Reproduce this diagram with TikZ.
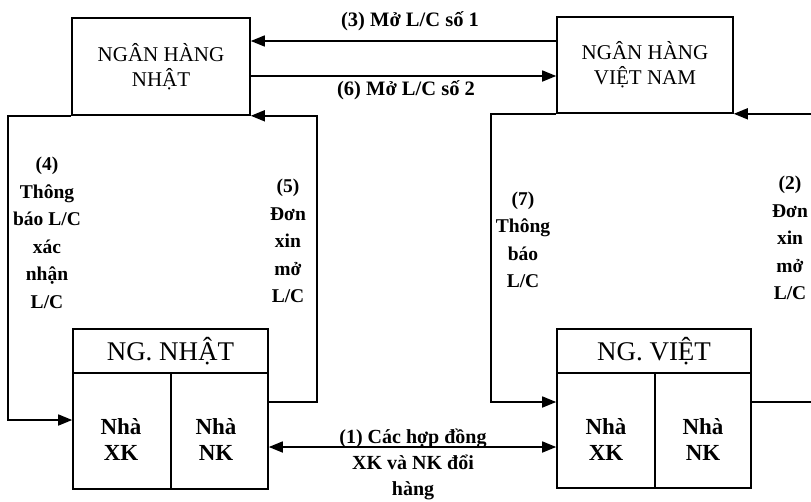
\documentclass[tikz,border=0pt]{standalone}
\usepackage{fontspec}
\setmainfont{Liberation Serif}
\usetikzlibrary{arrows.meta}
\begin{document}
\begin{tikzpicture}[x=1pt,y=-1pt,
  box/.style={draw,line width=1.6pt,inner sep=0pt,align=center},
  bank/.style={box,font=\fontsize{21}{25}\selectfont},
  head/.style={box,font=\fontsize{27}{30}\selectfont},
  cell/.style={box},
  celltext/.style={align=center,inner sep=0pt,font=\bfseries\fontsize{23}{26}\selectfont},
  conn/.style={line width=1.6pt},
  arr/.style={conn,-{Triangle[length=14pt,width=11pt]}},
  darr/.style={conn,{Triangle[length=14pt,width=11pt]}-{Triangle[length=14pt,width=11pt]}},
  lbl/.style={align=center,inner sep=0pt,font=\bfseries\fontsize{19.5}{27.5}\selectfont},
  toplbl/.style={align=center,inner sep=0pt,font=\bfseries\fontsize{20.5}{24}\selectfont},
  tlbl/.style={align=center,inner sep=0pt,font=\bfseries\fontsize{20}{26}\selectfont}]
\useasboundingbox (0,0) rectangle (811,501);
% banks
\node[bank,minimum width=178pt,minimum height=97pt] (bj) at (161,66.5) {NGÂN HÀNG\\NHẬT};
\node[bank,minimum width=176pt,minimum height=96pt] (bv) at (645,65) {NGÂN HÀNG\\VIỆT NAM};
% NG. NHẬT
\node[head,minimum width=195pt,minimum height=44pt] (nnh) at (170.5,351) {NG. NHẬT};
\node[cell,minimum width=98pt,minimum height=116pt] (nnx) at (122,431) {};
\node[cell,minimum width=97pt,minimum height=116pt] (nnk) at (219.5,431) {};
\node[celltext] (nnxt) at (121,440) {Nhà\\XK};
\node[celltext] (nnkt) at (216,440) {Nhà\\NK};
% NG. VIỆT
\node[head,minimum width=194pt,minimum height=44pt] (nvh) at (654,351) {NG. VIỆT};
\node[cell,minimum width=98pt,minimum height=115pt] (nvx) at (606,430.5) {};
\node[cell,minimum width=96pt,minimum height=115pt] (nvk) at (703,430.5) {};
\node[celltext] (nvxt) at (606,440) {Nhà\\XK};
\node[celltext] (nvkt) at (703,440) {Nhà\\NK};
% connectors
\draw[arr] ([yshift=24pt]bv.west) -- ([yshift=25.5pt]bj.east);
\draw[arr] ([yshift=-9.5pt]bj.east) -- ([yshift=-11pt]bv.west);
\draw[arr] (bj.south west) -- ++(-63,0) |- ([yshift=11pt]nnx.west);
\draw[arr] ([yshift=29pt]nnk.east) -- ++(48,0) |- (bj.south east);
\draw[arr] (bv.south west) -- ++(-65,0) |- ([yshift=28.5pt]nvx.west);
\draw[arr] ([yshift=28.5pt]nvk.east) -- ++(62,0) |- (bv.south east);
\draw[darr] ([yshift=-16pt]nnk.east) -- ([yshift=-16.5pt]nvx.west);
% labels
\node[toplbl] (l3) at (410,21) {(3) Mở L/C số 1};
\node[toplbl] (l6) at (406,90) {(6) Mở L/C số 2};
\node[lbl] (l4) at (47,233) {(4)\\Thông\\báo L/C\\xác\\nhận\\L/C};
\node[lbl] (l5) at (288,241) {(5)\\Đơn\\xin\\mở\\L/C};
\node[lbl] (l7) at (523,240) {(7)\\Thông\\báo\\L/C};
\node[lbl] (l2) at (790,238) {(2)\\Đơn\\xin\\mở\\L/C};
\node[tlbl,anchor=base] (l1) at (413,495) {(1) Các hợp đồng\\XK và NK đổi\\hàng};
\end{tikzpicture}
\end{document}
